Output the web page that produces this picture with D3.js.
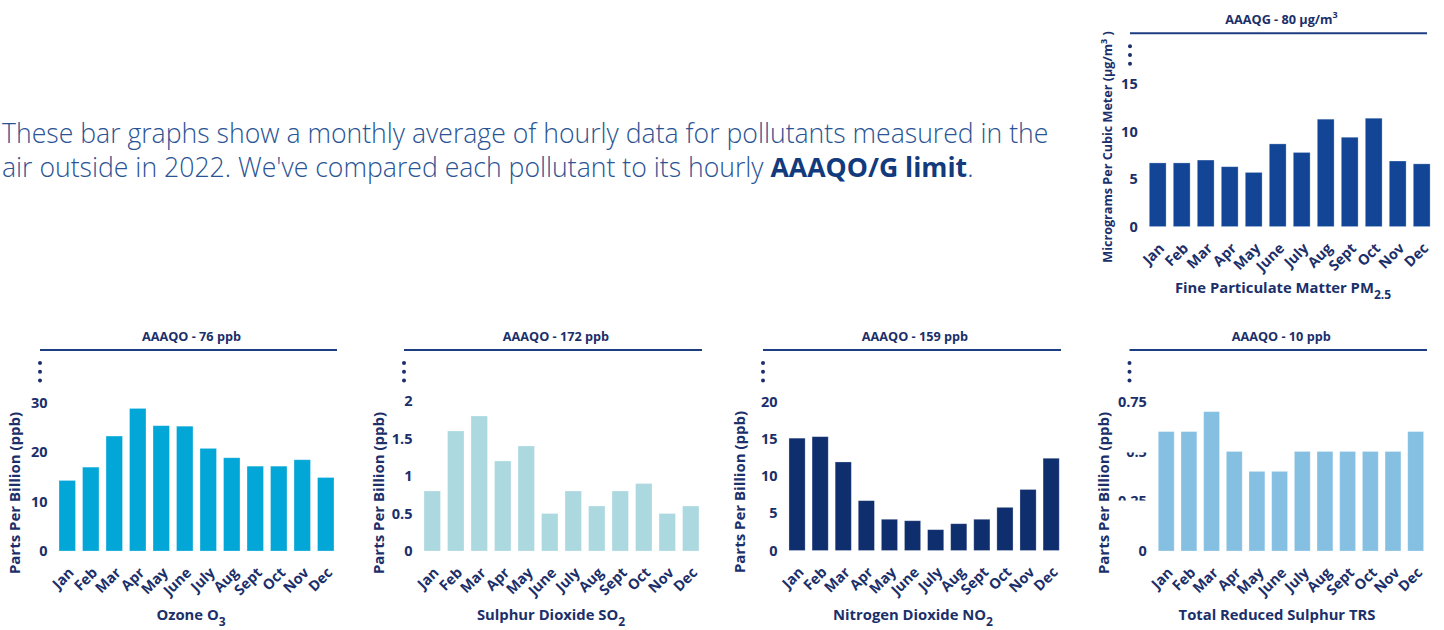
<!DOCTYPE html>
<html><head><meta charset="utf-8">
<script src="https://cdn.jsdelivr.net/npm/d3@7"></script>
<style>
body{margin:0;background:#fff}
svg{display:block}
text{font-family:"Open Sans",sans-serif}
</style>
</head><body>
<svg id="c" width="1444" height="630"></svg>
<script>
// ---------- data ----------
const months = ["Jan","Feb","Mar","Apr","May","June","July","Aug","Sept","Oct","Nov","Dec"];
const pm25Values  = [6.7, 6.7, 7.0, 6.3, 5.7, 8.7, 7.8, 11.3, 9.4, 11.4, 6.9, 6.6];
const ozoneValues = [14.3, 17.0, 23.3, 28.9, 25.4, 25.3, 20.8, 18.9, 17.2, 17.2, 18.5, 14.9];
const so2Values   = [0.8, 1.6, 1.8, 1.2, 1.4, 0.5, 0.8, 0.6, 0.8, 0.9, 0.5, 0.6];
const no2Values   = [15.1, 15.3, 11.9, 6.7, 4.2, 4.0, 2.8, 3.6, 4.2, 5.8, 8.2, 12.4];
const trsValues   = [0.6, 0.6, 0.7, 0.5, 0.4, 0.4, 0.5, 0.5, 0.5, 0.5, 0.5, 0.6];

const pm25Ticks  = [0, 5, 10, 15];
const ozoneTicks = [0, 10, 20, 30];
const so2Ticks   = [0, 0.5, 1, 1.5, 2];
const no2Ticks   = [0, 5, 10, 15, 20];
const trsTicks   = [0, 0.25, 0.5, 0.75];

const pm25Limit  = ["AAAQG - 80 µg/m", "3"];
const ozoneLimit = ["AAAQO - 76 ppb"];
const so2Limit   = ["AAAQO - 172 ppb"];
const no2Limit   = ["AAAQO - 159 ppb"];
const trsLimit   = ["AAAQO - 10 ppb"];

const pm25Name  = ["Fine Particulate Matter PM", "2.5"];
const ozoneName = ["Ozone O", "3"];
const so2Name   = ["Sulphur Dioxide SO", "2"];
const no2Name   = ["Nitrogen Dioxide NO", "2"];
const trsName   = ["Total Reduced Sulphur TRS"];

const pm25Unit = ["Micrograms Per Cubic Meter (µg/m", "3", " )"];
const ppbUnit  = ["Parts Per Billion (ppb)"];

const introLine1 = "These bar graphs show a monthly average of hourly data for pollutants measured in the";
const introLine2a = "air outside in 2022. We've compared each pollutant to its hourly ";
const introLine2b = "AAAQO/G limit";
const introLine2c = ".";

// ---------- style ----------
const NAVY = "#1b2f6a";
const LINE = "#1c3d80";
const svg = d3.select("#c");

// intro text
const intro = svg.append("g");
const t1 = intro.append("text").attr("x", 2).attr("y", 143)
  .attr("font-size", 26).attr("font-weight", 300).attr("fill", "#2a5394").text(introLine1);
const t2 = intro.append("text").attr("x", 2).attr("y", 177)
  .attr("font-size", 26).attr("font-weight", 300).attr("fill", "#2a5394");
t2.append("tspan").text(introLine2a);
t2.append("tspan").attr("font-weight", 700).attr("fill", "#123a7c").text(introLine2b);
t2.append("tspan").text(introLine2c);
const w1 = t1.node().getComputedTextLength();
const fs = 26 * 1047 / w1;
t1.attr("font-size", fs); t2.attr("font-size", fs);

function chart(cfg) {
  const g = svg.append("g");
  const x = d3.scaleBand().domain(months).range([cfg.x0, cfg.x1]).paddingInner(0.3).paddingOuter(0.15);
  const y = d3.scaleLinear().domain([0, d3.max(cfg.ticks)]).range([cfg.zeroY, cfg.topY]);

  // limit line + title
  g.append("line").attr("x1", cfg.lineX0).attr("x2", cfg.lineX1)
    .attr("y1", cfg.lineY).attr("y2", cfg.lineY).attr("stroke", LINE).attr("stroke-width", 2);
  const lt = g.append("text").attr("x", (cfg.lineX0 + cfg.lineX1) / 2 + 3).attr("y", cfg.lineY - 9.5)
    .attr("text-anchor", "middle").attr("font-size", 12.7).attr("font-weight", 700).attr("fill", NAVY);
  lt.append("tspan").text(cfg.limit[0]);
  if (cfg.limit[1]) lt.append("tspan").attr("dy", -5.5).attr("font-size", 9).text(cfg.limit[1]);

  // dots
  g.selectAll("circle.dot").data([13, 21.7, 30.4]).join("circle")
    .attr("cx", cfg.lineX0).attr("cy", d => cfg.lineY + d).attr("r", 2).attr("fill", NAVY);

  // bars
  g.selectAll("rect.bar").data(cfg.values).join("rect")
    .attr("x", (d, i) => x(months[i])).attr("width", x.bandwidth())
    .attr("y", d => y(d)).attr("height", d => y(0) - y(d))
    .attr("fill", cfg.color).attr("stroke", "rgba(255,255,255,0.35)").attr("stroke-width", 0.8);

  // y axis
  const yAxis = d3.axisLeft(y).tickValues(cfg.ticks).tickSize(0).tickPadding(0)
    .tickFormat(d => String(d));
  const ya = g.append("g").attr("transform", `translate(${cfg.x0 - 8},0)`).call(yAxis);
  ya.select(".domain").remove();
  ya.selectAll("text").attr("font-size", 14.5).attr("font-weight", 700).attr("fill", NAVY)
    .attr("font-family", "Open Sans");
  if (cfg.clip) {
    ya.selectAll(".tick").filter(d => cfg.clipTicks.includes(d)).each(function(d, i) {
      const id = "clip" + Math.round(cfg.x0) + "_" + i;
      svg.append("clipPath").attr("id", id).append("rect")
        .attr("x", cfg.clip[0] - (cfg.x0 - 8)).attr("y", cfg.clip[1] - y(d))
        .attr("width", cfg.clip[2]).attr("height", cfg.clip[3]);
      d3.select(this).select("text").attr("clip-path", `url(#${id})`);
    });
  }

  // x axis labels
  const xAxis = d3.axisBottom(x).tickSize(0).tickPadding(0);
  const xa = g.append("g").attr("transform", `translate(0,${cfg.zeroY})`).call(xAxis);
  xa.select(".domain").remove();
  xa.selectAll("text").attr("font-size", 14.5).attr("font-weight", 700).attr("fill", NAVY)
    .attr("font-family", "Open Sans")
    .attr("text-anchor", "end").attr("dy", "0.35em").attr("y", 0)
    .attr("transform", "translate(4,19) rotate(-45)");

  // x title
  const xt = g.append("text").attr("x", cfg.xTitleX).attr("y", cfg.xTitleY)
    .attr("text-anchor", "middle").attr("font-size", 14.8).attr("font-weight", 700).attr("fill", NAVY);
  xt.append("tspan").text(cfg.name[0]);
  if (cfg.name[1]) xt.append("tspan").attr("dy", 6).attr("font-size", 12).text(cfg.name[1]);

  // y title
  const yt = g.append("text").attr("transform", `translate(${cfg.yTitleX},${cfg.yTitleY}) rotate(-90)`)
    .attr("text-anchor", "middle").attr("dy", "0.35em").attr("font-size", cfg.yTitleSize)
    .attr("font-weight", 700).attr("fill", NAVY);
  yt.append("tspan").text(cfg.unit[0]);
  if (cfg.unit[1]) {
    yt.append("tspan").attr("dy", -5.5).attr("font-size", 9).text(cfg.unit[1]);
    yt.append("tspan").attr("dy", 5.5).text(cfg.unit[2]);
  }
}

chart({values: pm25Values, ticks: pm25Ticks, color: "#124595", limit: pm25Limit, name: pm25Name, unit: pm25Unit,
  x0: 1145.7, x1: 1433.7, zeroY: 226.6, topY: 84, lineX0: 1130, lineX1: 1427, lineY: 33.3,
  xTitleX: 1283, xTitleY: 293, yTitleX: 1108, yTitleY: 147, yTitleSize: 12.6});
chart({values: ozoneValues, ticks: ozoneTicks, color: "#02a6d7", limit: ozoneLimit, name: ozoneName, unit: ppbUnit,
  x0: 55.5, x1: 337.5, zeroY: 551, topY: 403, lineX0: 40, lineX1: 337, lineY: 350,
  xTitleX: 191, xTitleY: 620, yTitleX: 15, yTitleY: 493, yTitleSize: 15});
chart({values: so2Values, ticks: so2Ticks, color: "#acd8e0", limit: so2Limit, name: so2Name, unit: ppbUnit,
  x0: 420.5, x1: 702.5, zeroY: 551, topY: 401, lineX0: 404, lineX1: 702, lineY: 350,
  xTitleX: 551, xTitleY: 620, yTitleX: 378.5, yTitleY: 493, yTitleSize: 15});
chart({values: no2Values, ticks: no2Ticks, color: "#0f2e6e", limit: no2Limit, name: no2Name, unit: ppbUnit,
  x0: 785.5, x1: 1062.7, zeroY: 550.5, topY: 401.7, lineX0: 763, lineX1: 1061, lineY: 350,
  xTitleX: 913, xTitleY: 620, yTitleX: 740, yTitleY: 492, yTitleSize: 15});
chart({values: trsValues, ticks: trsTicks, color: "#85c0e3", limit: trsLimit, name: trsName, unit: ppbUnit,
  x0: 1154.9, x1: 1427, zeroY: 551, topY: 401.7, lineX0: 1129.5, lineX1: 1427, lineY: 350,
  xTitleX: 1277, xTitleY: 620, yTitleX: 1103.3, yTitleY: 493, yTitleSize: 15,
  clip: [1110, 452, 45, 48], clipTicks: [0.25, 0.5]});
</script>
</body></html>
